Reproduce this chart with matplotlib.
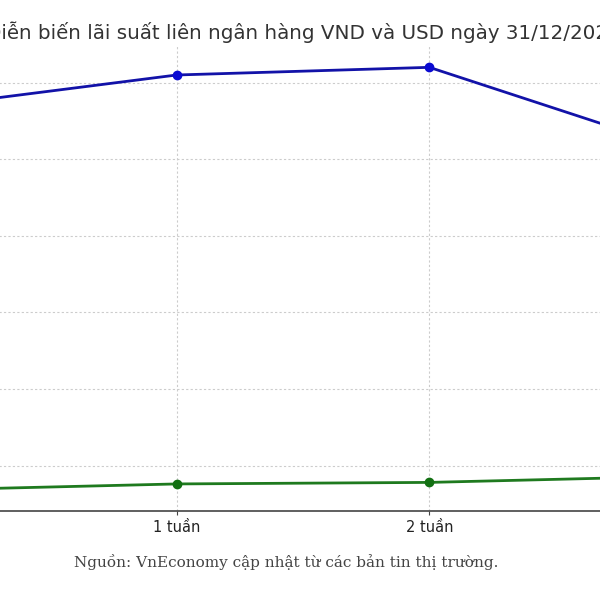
import matplotlib
matplotlib.use("Agg")
import matplotlib.pyplot as plt

# ky han va lai suat (%/nam)
ky_han = ['Qua đêm', '1 tuần', '2 tuần', '1 tháng']
lai_suat_vnd = [6.84, 7.05, 7.10, 6.56]
lai_suat_usd = [4.34, 4.38, 4.39, 4.43]

tieu_de = 'Diễn biến lãi suất liên ngân hàng VND và USD ngày 31/12/2024'
nguon = 'Nguồn: VnEconomy cập nhật từ các bản tin thị trường.'

plt.rcParams['font.family'] = ['DejaVu Sans']

fig = plt.figure(figsize=(6, 6), dpi=100)
# the reference is a crop of a wider chart, so the axes run past the figure edges
ax = fig.add_axes([-0.19, 0.148, 1.39, 0.775])

x = range(len(ky_han))
ax.plot(x, lai_suat_vnd, color='#1212a8', linewidth=2.0, marker='o',
        markersize=6, markerfacecolor='#0a0ad2', markeredgecolor='#0a0ad2', label='VND')
ax.plot(x, lai_suat_usd, color='#1f7a1f', linewidth=2.0, marker='o',
        markersize=6, markerfacecolor='#127012', markeredgecolor='#127012', label='USD')

ax.set_xticks(list(x))
ax.set_xticklabels(ky_han, fontsize=10.5, color='#222222')
ax.set_yticks([4.5, 5.0, 5.5, 6.0, 6.5, 7.0])
ax.tick_params(axis='y', length=0, labelleft=False)  # y labels sit outside the crop
ax.grid(True, linestyle=(0, (2, 2)), color='#cccccc', linewidth=0.8)
ax.set_axisbelow(True)

for side in ['top', 'right', 'left']:
    ax.spines[side].set_visible(False)
ax.spines['bottom'].set_color('#444444')
ax.spines['bottom'].set_linewidth(1.2)
ax.tick_params(axis='x', length=3, color='#444444')

ax.set_title(tieu_de, fontsize=14.3, color='#333333', pad=5.5)

fig.text(0.477, 0.063, nguon, ha='center', va='center', fontsize=11,
         family='DejaVu Serif', color='#444444')

fig.savefig('out.png', dpi=100, facecolor='white')
